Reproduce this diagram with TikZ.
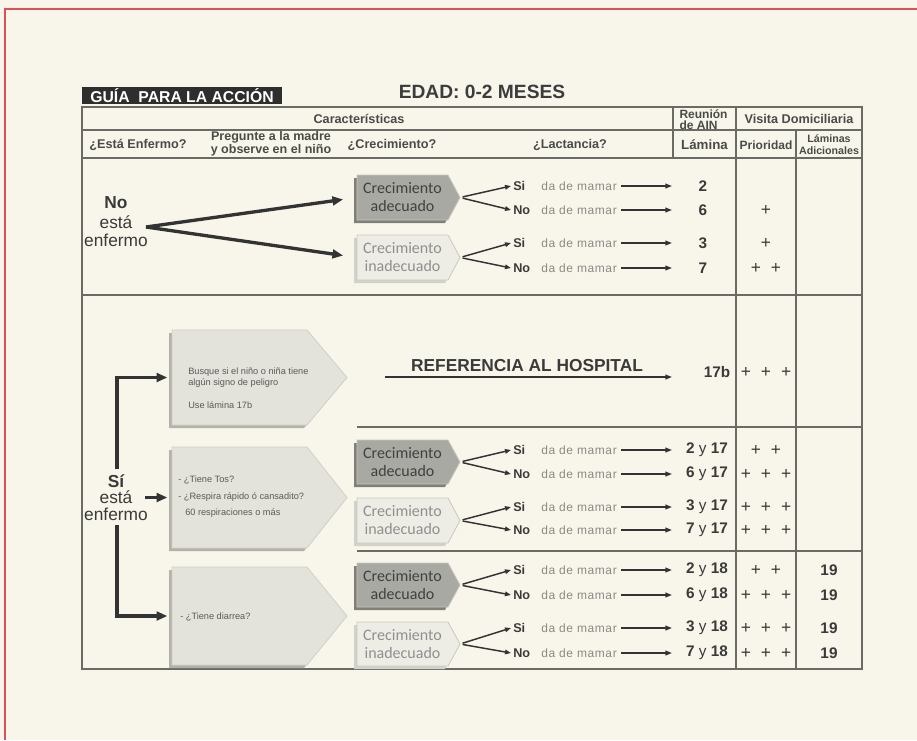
\documentclass[tikz,border=0pt]{standalone}
\usepackage{fontspec}
\setmainfont{Liberation Sans}
\newfontfamily\crecf{Carlito}
\newfontfamily\mamarf[LetterSpace=5]{Liberation Sans}
\usetikzlibrary{arrows.meta,calc}
\definecolor{bg}{HTML}{F8F6EA}
\definecolor{redf}{HTML}{E0505A}
\definecolor{tline}{HTML}{6B6B66}
\definecolor{thead}{HTML}{4A4A48}
\definecolor{tdark}{HTML}{3A3A3A}
\definecolor{tmam}{HTML}{8A8A86}
\definecolor{tbox}{HTML}{5A5A58}
\definecolor{tarrow}{HTML}{333333}
\definecolor{titlebg}{HTML}{2E2E2E}
\definecolor{tedad}{HTML}{3C3C3C}
\definecolor{adface}{HTML}{A9A9A3}
\definecolor{adedge}{HTML}{C6C6BE}
\definecolor{adbevel}{HTML}{808079}
\definecolor{adtext}{HTML}{404040}
\definecolor{inface}{HTML}{EEEDE5}
\definecolor{inedge}{HTML}{C9C9C1}
\definecolor{inbevel}{HTML}{D2D2CA}
\definecolor{intext}{HTML}{8F8F8F}
\definecolor{bigface}{HTML}{E3E3DC}
\definecolor{bigedge}{HTML}{D0D0C8}
\definecolor{bigbevel}{HTML}{B2B2AA}
% pentagon box: name, x1, y1, xr, y2, tipx, face style, bevel colour
\newcommand\pent[8]{%
  \fill[#8] ({#2-3},{#3+3}) -- ({#4-3},{#3+3}) -- ({#6-3},{(#3+#5)/2+3}) -- ({#4-3},{#5+3}) -- ({#2-3},{#5+3}) -- cycle;
  \path[#7] (#2,#3) -- (#4,#3) -- (#6,{(#3+#5)/2}) -- (#4,#5) -- (#2,#5) -- cycle;
  \coordinate (#1-tip) at (#6,{(#3+#5)/2});
  \coordinate (#1-w) at (#2,{(#3+#5)/2});
}
\newcommand\pp{\hspace{7.5pt}}
\newcommand\lam[2]{{\bfseries #1} {\mdseries y} {\bfseries #2}}
% row: id, y, Si/No, lamina x, lamina text, prioridad
\newcommand\lrow[6]{%
  \node[sino] (#1-s) at (511,#2) {#3};
  \node[mam] (#1-d) at (537,#2) {da de mamar};
  \coordinate (#1-e) at (672,#2);
  \draw[thinarr] (#1-d.east) -- (#1-e);
  \node[num] (#1-n) at (#4,#2) {#5};
  \node[plus] (#1-p) at (766,#2) {#6};
}
\begin{document}
\begin{tikzpicture}[x=0.75pt,y=-0.75pt,
  tl/.style={draw=tline, line width=0.9pt},
  hdr/.style={font=\fontsize{9.5}{10}\selectfont\bfseries, text=thead, inner sep=1pt, align=center},
  bigt/.style={font=\fontsize{13}{14}\selectfont, text=tdark, inner sep=1pt},
  crectxt/.style={font=\crecf\fontsize{12}{13.5}\selectfont, align=center, inner sep=0pt},
  sino/.style={font=\fontsize{9.5}{10}\selectfont\bfseries, text=tdark, anchor=west, inner sep=1.5pt},
  mam/.style={font=\mamarf\fontsize{9}{10}\selectfont, text=tmam, anchor=west, inner sep=3pt},
  num/.style={font=\fontsize{11.5}{12}\selectfont\bfseries, text=tdark, inner sep=1pt},
  plus/.style={font=\fontsize{13}{13}\selectfont, text=tdark, inner sep=1pt},
  boxtxt/.style={font=\fontsize{6.9}{8}\selectfont, text=tbox, anchor=west, inner sep=0pt},
  thickarr/.style={draw=tarrow, line width=2.5pt, -{Triangle[length=8pt,width=6.5pt]}},
  thinarr/.style={draw=tarrow, line width=1.1pt, -{Triangle[length=5pt,width=3.6pt]}},
  smarr/.style={draw=tarrow, line width=1.1pt, shorten <=2pt, -{Triangle[length=4.5pt,width=3.4pt]}},
  adstyle/.style={fill=adface, draw=adedge, line width=0.6pt},
  instyle/.style={fill=inface, draw=inedge, line width=0.6pt},
  bigstyle/.style={fill=bigface, draw=bigedge, line width=0.6pt},
]
\useasboundingbox (0,0) rectangle (917,740);
\fill[bg] (0,0) rectangle (917,740);
\draw[redf, line width=1.2pt] (5,740) -- (5,9) -- (917,9);

% title
\node[fill=titlebg, text=white, font=\fontsize{11.8}{13}\selectfont\bfseries, minimum width=150pt, minimum height=13pt, inner sep=0pt] (title) at (182,95.5) {GUÍA\ \ PARA LA ACCIÓN};
\node[font=\fontsize{14.4}{15}\selectfont\bfseries, text=tedad] (edad) at (482,92) {EDAD: 0-2 MESES};

% table grid
\draw[tl] (82,107) rectangle (862,669);
\draw[tl] (82,130) -- (862,130);
\draw[tl] (82,158) -- (862,158);
\draw[tl] (82,295) -- (862,295);
\draw[tl] (673,107) -- (673,158);
\draw[tl] (736,107) -- (736,669);
\draw[tl] (796,130) -- (796,669);
\draw[tl] (357,427) -- (862,427);
\draw[tl] (357,551) -- (862,551);

% headers
\node[hdr] (hcar) at (359,118.5) {Características};
\node[hdr] (henf) at (138,145) {¿Está Enfermo?};
\node[hdr, font=\fontsize{9.4}{9.6}\selectfont\bfseries] (hpreg) at (271,144) {Pregunte a la madre\\y observe en el niño};
\node[hdr] (hcrec) at (392,145) {¿Crecimiento?};
\node[hdr] (hlac) at (570,145) {¿Lactancia?};
\node[hdr, align=left, font=\fontsize{9}{8.2}\selectfont\bfseries] (hreu) at (703.5,119.5) {Reunión\\de AIN};
\node[hdr] (hvis) at (799,118.5) {Visita Domiciliaria};
\node[hdr, font=\fontsize{10}{10}\selectfont\bfseries] (hlam) at (704.5,145) {Lámina};
\node[hdr, font=\fontsize{9}{10}\selectfont\bfseries] (hpri) at (766,145) {Prioridad};
\node[hdr, font=\fontsize{8}{8.8}\selectfont\bfseries] (had) at (829,144.5) {Láminas\\Adicionales};

% section 1: No esta enfermo
\node[bigt, font=\fontsize{13}{14}\selectfont\bfseries] (no1) at (116,203) {No};
\node[bigt] (no2) at (116,222) {está};
\node[bigt] (no3) at (116,240) {enfermo};
\coordinate (nofork) at (146,227);

\pent{a1}{357}{175}{448}{220}{460}{adstyle}{adbevel}
\pent{a2}{357}{235}{448}{280}{460}{instyle}{inbevel}
\node[crectxt, text=adtext] (a1t) at (402.5,197.5) {Crecimiento\\adecuado};
\node[crectxt, text=intext] (a2t) at (402.5,257.5) {Crecimiento\\inadecuado};
\draw[thickarr, shorten >=10.5pt] (nofork) -- (a1-w);
\draw[thickarr, shorten >=10.5pt] (nofork) -- (a2-w);

\lrow{r1}{186}{Si}{703}{\bfseries 2}{}
\lrow{r2}{210}{No}{703}{\bfseries 6}{+}
\lrow{r3}{243}{Si}{703}{\bfseries 3}{+}
\lrow{r4}{268}{No}{703}{\bfseries 7}{+\pp+}
\draw[smarr] (a1-tip) -- (r1-s.west);
\draw[smarr] (a1-tip) -- (r2-s.west);
\draw[smarr] (a2-tip) -- (r3-s.west);
\draw[smarr] (a2-tip) -- (r4-s.west);

% section 2: Si esta enfermo
\pent{b1}{172}{330}{307}{425}{347}{bigstyle}{bigbevel}
\pent{b2}{172}{447}{307}{548}{347}{bigstyle}{bigbevel}
\pent{b3}{172}{567}{307}{665}{347}{bigstyle}{bigbevel}
\node[boxtxt] (b1t1) at (188,372) {Busque si el niño o niña tiene};
\node[boxtxt] (b1t2) at (188,383) {algún signo de peligro};
\node[boxtxt] (b1t3) at (188,405) {Use lámina 17b};
\node[boxtxt] (b2t1) at (178,480) {- ¿Tiene Tos?};
\node[boxtxt] (b2t2) at (178,497) {- ¿Respira rápido ó cansadito?};
\node[boxtxt] (b2t3) at (185,513) {60 respiraciones o más};
\node[boxtxt] (b3t1) at (180,617) {- ¿Tiene diarrea?};

\node[bigt, font=\fontsize{13}{14}\selectfont\bfseries] (si1) at (116,481) {Sí};
\node[bigt] (si2) at (116,497) {está};
\node[bigt] (si3) at (116,514) {enfermo};
\coordinate (sv1) at (117,469);
\coordinate (sv2) at (117,525);
\coordinate (sa) at (145,497.5);
\draw[thickarr, shorten >=3.5pt] (sv1) |- (b1-w);
\draw[thickarr, shorten >=3.5pt] (sv2) |- (b3-w);
\draw[thickarr, shorten >=3.5pt] (sa) -- (b2-w);

% referencia
\node[font=\fontsize{13}{14}\selectfont\bfseries, text=tdark] (ref) at (527,365.5) {REFERENCIA AL HOSPITAL};
\coordinate (refs) at (385,377);
\coordinate (refe) at (672,377);
\draw[thinarr] (refs) -- (refe);
\node[num] (n17b) at (717,372) {17b};
\node[plus] (p17b) at (766,372) {+\pp+\pp+};

% group A (tos)
\pent{c1}{357}{440}{448}{484}{460}{adstyle}{adbevel}
\pent{c2}{357}{498}{448}{543}{460}{instyle}{inbevel}
\node[crectxt, text=adtext] (c1t) at (402.5,462) {Crecimiento\\adecuado};
\node[crectxt, text=intext] (c2t) at (402.5,520.5) {Crecimiento\\inadecuado};
\lrow{s1}{450}{Si}{707}{\lam{2}{17}}{+\pp+}
\lrow{s2}{474}{No}{707}{\lam{6}{17}}{+\pp+\pp+}
\lrow{s3}{507}{Si}{707}{\lam{3}{17}}{+\pp+\pp+}
\lrow{s4}{530}{No}{707}{\lam{7}{17}}{+\pp+\pp+}
\draw[smarr] (c1-tip) -- (s1-s.west);
\draw[smarr] (c1-tip) -- (s2-s.west);
\draw[smarr] (c2-tip) -- (s3-s.west);
\draw[smarr] (c2-tip) -- (s4-s.west);

% group B (diarrea)
\pent{d1}{357}{563}{448}{607}{460}{adstyle}{adbevel}
\pent{d2}{357}{622}{448}{666}{460}{instyle}{inbevel}
\node[crectxt, text=adtext] (d1t) at (402.5,585) {Crecimiento\\adecuado};
\node[crectxt, text=intext] (d2t) at (402.5,644) {Crecimiento\\inadecuado};
\lrow{t1}{570}{Si}{707}{\lam{2}{18}}{+\pp+}
\lrow{t2}{595}{No}{707}{\lam{6}{18}}{+\pp+\pp+}
\lrow{t3}{628}{Si}{707}{\lam{3}{18}}{+\pp+\pp+}
\lrow{t4}{653}{No}{707}{\lam{7}{18}}{+\pp+\pp+}
\draw[smarr] (d1-tip) -- (t1-s.west);
\draw[smarr] (d1-tip) -- (t2-s.west);
\draw[smarr] (d2-tip) -- (t3-s.west);
\draw[smarr] (d2-tip) -- (t4-s.west);
\node[num] (t1a) at (829,570) {19};
\node[num] (t2a) at (829,595) {19};
\node[num] (t3a) at (829,628) {19};
\node[num] (t4a) at (829,653) {19};
\end{tikzpicture}
\end{document}
